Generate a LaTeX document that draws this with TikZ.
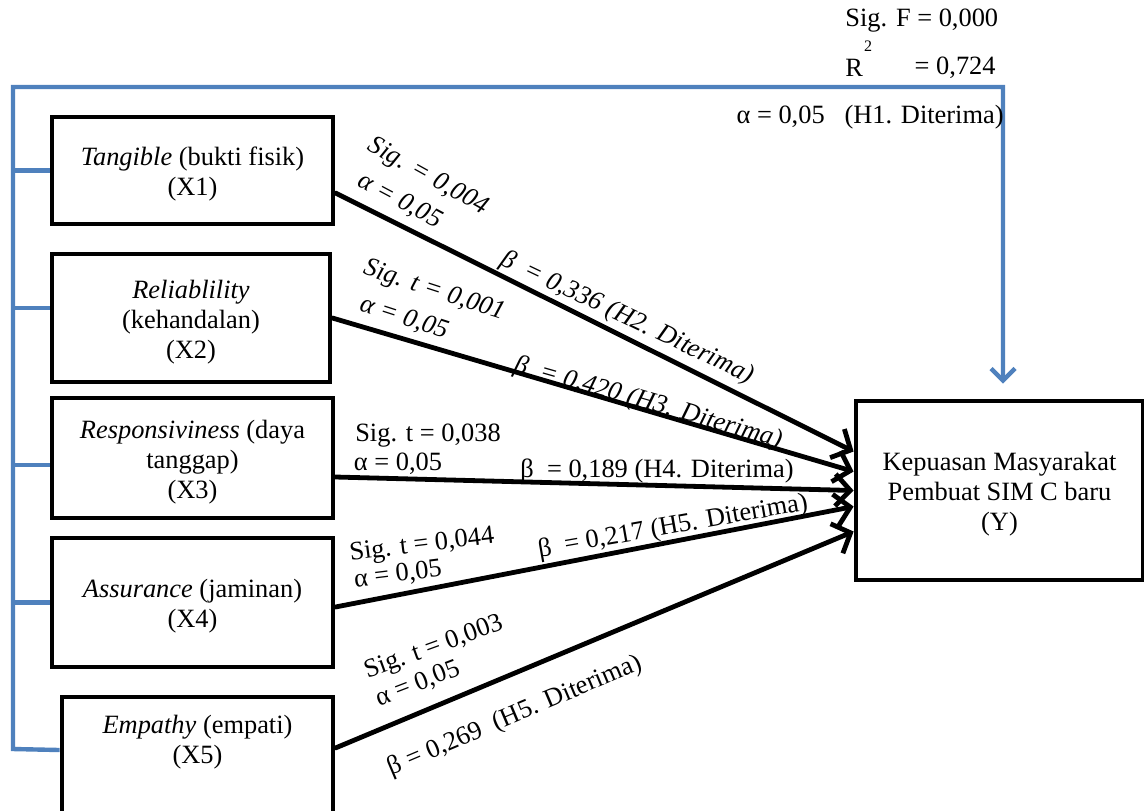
\documentclass[tikz,border=0pt]{standalone}
\usepackage{fontspec}
\setmainfont{Liberation Serif}
\usetikzlibrary{arrows.meta}
\definecolor{busblue}{RGB}{79,129,189}
\newcommand\topstrut{\rule{0pt}{13pt}}
\begin{document}
\begin{tikzpicture}[x=0.5pt,y=-0.5pt,
  box/.style={draw=black,line width=2.4pt,align=center,inner sep=0pt,
    font=\fontsize{13.2}{15}\selectfont},
  conn/.style={line width=2.4pt,line cap=round,-{Straight Barb[length=7.5pt,width=16pt,line width=2.4pt]}},
  bus/.style={draw=busblue,line width=2.2pt},
  lab/.style={inner sep=0pt,font=\fontsize{13.2}{15}\selectfont},
  ilab/.style={inner sep=0pt,font=\fontsize{13.2}{15}\selectfont\itshape}]
\useasboundingbox (0,0) rectangle (1144,810);
\begin{scope}
\clip (0,0) rectangle (1144,810);
% boxes
\node[box,minimum width=140.5pt,minimum height=53.5pt] (X1) at (192.5,170.5)
  {\topstrut\textit{Tangible} (bukti fisik)\\(X1)};
\node[box,minimum width=139pt,minimum height=64pt] (X2) at (191,318)
  {\topstrut\textit{Reliablility}\\(kehandalan)\\(X2)};
\node[box,minimum width=140.5pt,minimum height=60pt] (X3) at (192.5,458)
  {\topstrut\textit{Responsiviness} (daya\\tanggap)\\(X3)};
\node[box,minimum width=140.5pt,minimum height=64.5pt] (X4) at (192.5,602.5)
  {\topstrut\textit{Assurance} (jaminan)\\(X4)};
\node[box,minimum width=135.5pt,minimum height=62pt] (X5) at (197.5,759)
  {\textit{Empathy} (empati)\\(X5)\\[5pt]};
\node[box,minimum width=143.5pt,minimum height=89.5pt] (Y) at (999.5,490.5)
  {\topstrut Kepuasan Masyarakat\\Pembuat SIM C baru\\(Y)};
\end{scope}
% blue bus
\coordinate (busT) at (13,87);
\coordinate (busB) at (13,749);
\coordinate (busR) at (1003,87);
\draw[bus,line join=miter] ([yshift=4.5pt]X5.west) -- (busB) -- (busT) -- (busR)
  -- ([yshift=9pt]busR |- Y.north);
\draw[bus,-{Straight Barb[length=6pt,width=12pt,line width=2.2pt]}]
  ([yshift=14pt]busR |- Y.north) -- ([yshift=7.5pt]busR |- Y.north);
\draw[bus] (X1.west) -- (X1.west -| busT);
\draw[bus] ([yshift=5pt]X2.west) -- ([yshift=5pt]X2.west -| busT);
\draw[bus] ([yshift=-3.5pt]X3.west) -- ([yshift=-3.5pt]X3.west -| busT);
\draw[bus] (X4.west) -- (X4.west -| busT);
% connectors
\draw[conn] ([yshift=-11.25pt]X1.east) -- ([yshift=19.5pt]Y.west);
\draw[conn] (X2.east) -- ([yshift=9.5pt]Y.west);
\draw[conn] ([yshift=-9.5pt]X3.east) -- (Y.west);
\draw[conn] ([yshift=-2.25pt]X4.east) -- ([yshift=-8pt]Y.west);
\draw[conn] ([yshift=5.5pt]X5.east) -- ([yshift=-20.5pt]Y.west);
% top labels
\node[lab,anchor=west] (sigF) at (845,21) {Sig. F = 0,000};
\node[lab,anchor=west] (rr) at (845,68) {R};
\node[inner sep=0pt,font=\fontsize{8}{9}\selectfont] (rsq) at (868,46) {2};
\node[lab,anchor=east] (rv) at (996,68) {= 0,724};
\node[lab,anchor=east] (h1) at (1004,117) {α = 0,05\ \ \ (H1. Diterima)};
% line 1
\node[ilab,rotate=-29] (s1) at (428,177) {Sig. = 0,004};
\node[ilab,rotate=-28] (a1) at (400,201) {α = 0,05};
\node[ilab,rotate=-25.5] (b1) at (627,318) {β\ \ = 0,336 (H2. Diterima)};
% line 2
\node[ilab,rotate=-18] (s2) at (434,291) {Sig. t = 0,001};
\node[ilab,rotate=-18] (a2) at (404,318) {α = 0,05};
\node[ilab,rotate=-16] (b2) at (648,403) {β\ \ = 0,420 (H3. Diterima)};
% line 3
\node[lab] (s3) at (428,436) {Sig. t = 0,038};
\node[lab] (a3) at (398,464) {α = 0,05};
\node[lab] (b3) at (657,471) {β\ \ = 0,189 (H4. Diterima)};
% line 4
\node[lab,rotate=7] (s4) at (422,546) {Sig. t = 0,044};
\node[lab,rotate=7] (a4) at (398,575) {α = 0,05};
\node[lab,rotate=10] (b4) at (673,527) {β\ \ = 0,217 (H5. Diterima)};
% line 5
\node[lab,rotate=20] (s5) at (434,648) {Sig. t = 0,003};
\node[lab,rotate=21] (a5) at (418,684) {α = 0,05};
\node[lab,rotate=23] (b5) at (515,716) {β = 0,269\ \ (H5. Diterima)};
\end{tikzpicture}
\end{document}
